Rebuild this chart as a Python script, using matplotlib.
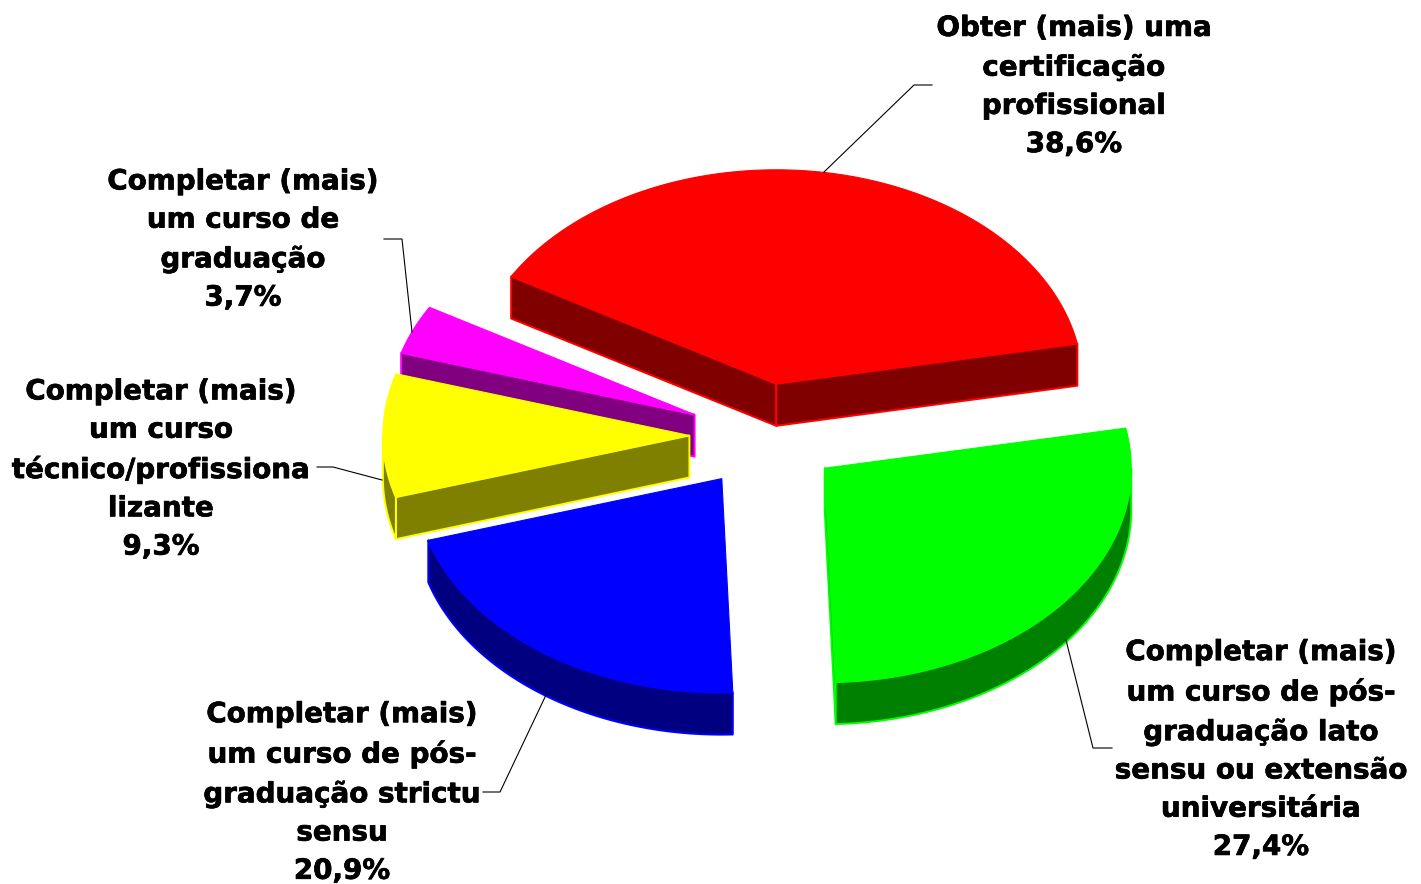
import numpy as np
import matplotlib
matplotlib.use("Agg")
import matplotlib.pyplot as plt
import matplotlib.patheffects as pe
from matplotlib.patches import Polygon

names = ["Obter (mais) uma\ncertificação\nprofissional",
         "Completar (mais)\num curso de\ngraduação",
         "Completar (mais)\num curso\ntécnico/profissiona\nlizante",
         "Completar (mais)\num curso de pós-\ngraduação strictu\nsensu",
         "Completar (mais)\num curso de pós-\ngraduação lato\nsensu ou extensão\nuniversitária"]
values = [38.6, 3.7, 9.3, 20.9, 27.4]
tops = ["#ff0000", "#ff00ff", "#ffff00", "#0000ff", "#00ff00"]
walls = ["#800000", "#800080", "#808000", "#000080", "#008000"]

W, H = 1421, 884
CX, CY, RX, RY, DEPTH, EXPLODE, START = 764.5, 435.5, 306.5, 214, 42, 0.245, 10.8
nudges = [(-0.8, 0), (-1, 0), (0, 0), (1, 0.5), (1.5, 0)]
label_pos = [(1074, 86), (243, 239.5), (161, 469), (342, 792.5), (1261, 749.5)]
leaders = [[(824, 172), (914, 85), (932, 85)],
           [(412, 332), (402, 239), (384, 239)],
           [(382, 480), (333, 467), (317, 467)],
           [(546, 695), (500, 792), (483, 792)],
           [(1066, 640), (1093, 748), (1112, 748)]]

fig = plt.figure(figsize=(W / 100, H / 100), dpi=100)
ax = fig.add_axes([0, 0, 1, 1])
ax.set_xlim(0, W)
ax.set_ylim(H, 0)
ax.axis("off")


def pt(deg, ox, oy):
    t = np.radians(deg)
    return np.column_stack([ox + RX * np.cos(t), oy - RY * np.sin(t)])


def wall(p, color, edge, z):
    poly = np.vstack([p, (p + [0, DEPTH])[::-1]])
    ax.add_patch(Polygon(poly, closed=True, fc=color, ec=edge, lw=1.4, zorder=z, joinstyle="round"))


fracs = np.array(values) / sum(values) * 360
lo = START + np.concatenate([[0], np.cumsum(fracs)[:-1]])
hi = lo + fracs

for i in range(len(values)):
    a, b = lo[i], hi[i]
    mid = np.radians((a + b) / 2)
    ox = CX + EXPLODE * RX * np.cos(mid) + nudges[i][0]
    oy = CY - EXPLODE * RY * np.sin(mid) + nudges[i][1]
    apex = np.array([[ox, oy]])
    z = 2 + i * 2
    # radial side walls that face the viewer
    if np.sin(np.radians(b + 90)) < 0:
        wall(np.vstack([apex, pt(np.array([b]), ox, oy)]), walls[i], tops[i], z)
    if np.sin(np.radians(a - 90)) < 0:
        wall(np.vstack([apex, pt(np.array([a]), ox, oy)]), walls[i], tops[i], z)
    # outer rim, front half only
    ang = np.linspace(a, b, 200)
    front = ang[np.sin(np.radians(ang)) <= 0]
    if front.size > 1:
        wall(pt(front, ox, oy), walls[i], tops[i], z)
    arc = pt(ang, ox, oy)
    ax.add_patch(Polygon(np.vstack([apex, arc]), closed=True, fc=tops[i], ec=tops[i], lw=0.8, zorder=z + 1))

for i, (x, y) in enumerate(label_pos):
    pct = f"{values[i]:.1f}".replace(".", ",") + "%"
    ax.text(x, y, names[i] + "\n" + pct, ha="center", va="center", ma="center",
            fontsize=20, fontweight="bold", family="DejaVu Sans", color="black",
            linespacing=1.465, zorder=20,
            path_effects=[pe.withStroke(linewidth=0.5, foreground="black")])
    xs, ys = zip(*leaders[i])
    ax.plot(xs, ys, color="black", lw=0.8, zorder=19, solid_joinstyle="miter")

fig.savefig("out.png", dpi=100, facecolor="white")
